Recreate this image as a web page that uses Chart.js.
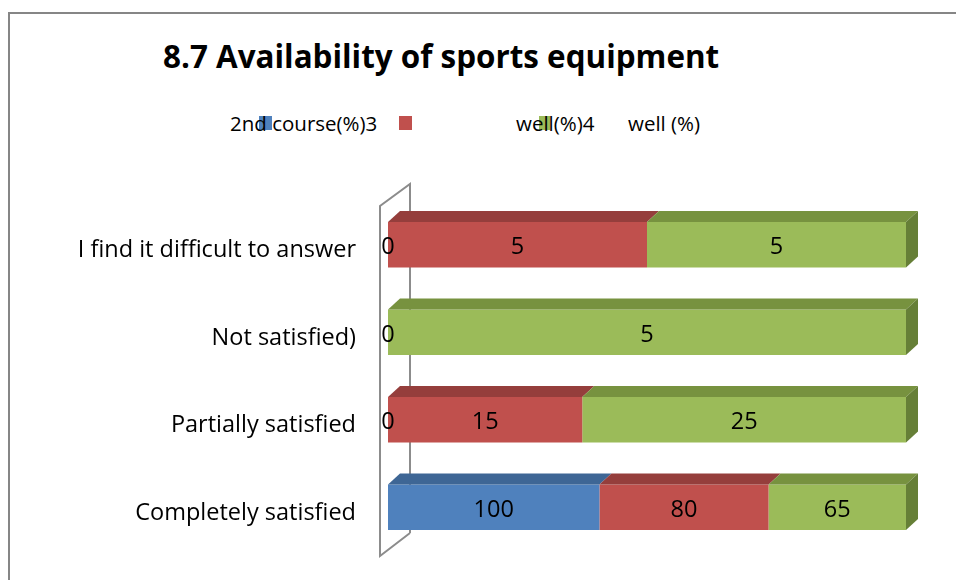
<!DOCTYPE html>
<html>
<head>
<meta charset="utf-8">
<script src="https://cdn.jsdelivr.net/npm/chart.js@4/dist/chart.umd.min.js"></script>
<style>
body { margin: 0; background: #fff; }
#wrap { position: relative; width: 956px; height: 580px; overflow: hidden; font-family: "Open Sans", sans-serif; }
#frame { position: absolute; left: 8px; top: 12px; width: 960px; height: 580px; border-top: 2px solid #868686; border-left: 2px solid #868686; }
#title { position: absolute; left: 163px; top: 34px; font-weight: bold; font-size: 31.4px; color: #000; white-space: nowrap; }
.lg { position: absolute; top: 109px; font-size: 20.5px; color: #000; white-space: nowrap; }
.mk { position: absolute; top: 116px; width: 13px; height: 14px; }
canvas { position: absolute; left: 0; top: 0; }
</style>
</head>
<body>
<div id="wrap">
  <div id="frame"></div>
  <div id="title">8.7 Availability of sports equipment</div>
  <div class="mk" style="left:259px;background:#4F81BD"></div>
  <div class="mk" style="left:399px;background:#C0504D"></div>
  <div class="mk" style="left:539px;background:#9BBB59;width:11px"></div>
  <div class="lg" style="left:230px">2nd course(%)3</div>
  <div class="lg" style="left:516px">well(%)4</div>
  <div class="lg" style="left:628px">well (%)</div>
  <canvas id="chart" width="956" height="580"></canvas>
</div>
<script>
var categories = ["I find it difficult to answer", "Not satisfied)", "Partially satisfied", "Completely satisfied"];
var seriesNames = ["2nd course(%)", "3 well(%)", "4 well (%)"];
var course2 = [0, 0, 0, 100];
var well3 = [5, null, 15, 80];
var well4 = [5, 5, 25, 65];

var colors = ["#4F81BD", "#C0504D", "#9BBB59"];
var topColors = ["#3E6695", "#953E3C", "#77923F"];
var sideColors = ["#345680", "#7E3331", "#667F37"];
var fontFam = "'Open Sans', sans-serif";

var allSeries = [course2, well3, well4];

// percentages per row, the chart is 100% stacked
function toPct(arr) {
    return arr.map(function (v, i) {
        if (v === null) return null;
        var tot = 0;
        allSeries.forEach(function (s) { tot += (s[i] || 0); });
        return v / tot * 100;
    });
}

var depthX = 12, depthY = 11;

var bars3d = {
    id: 'bars3d',
    beforeDatasetsDraw: function (chart) {
        var a = chart.chartArea, ctx = chart.ctx;
        ctx.save();
        ctx.strokeStyle = "#8C8C8C";
        ctx.lineWidth = 2;
        ctx.beginPath();
        ctx.moveTo(a.left + 22, a.bottom - 18);
        ctx.lineTo(a.left + 22, a.top - 17);
        ctx.lineTo(a.left - 8, a.top + 5);
        ctx.lineTo(a.left - 8, a.bottom + 5);
        ctx.lineTo(a.left + 22, a.bottom - 18);
        ctx.stroke();
        ctx.restore();
    },
    afterDatasetsDraw: function (chart) {
        var ctx = chart.ctx;
        ctx.save();
        for (var i = 0; i < categories.length; i++) {
            var last = null;
            for (var d = 0; d < allSeries.length; d++) {
                var bar = chart.getDatasetMeta(d).data[i];
                if (allSeries[d][i] === null || !bar) continue;
                var x0 = Math.min(bar.base, bar.x), x1 = Math.max(bar.base, bar.x);
                var top = bar.y - bar.height / 2;
                if (x1 - x0 > 0.5) {
                    ctx.fillStyle = topColors[d];
                    ctx.beginPath();
                    ctx.moveTo(x0, top);
                    ctx.lineTo(x0 + depthX, top - depthY);
                    ctx.lineTo(x1 + depthX, top - depthY);
                    ctx.lineTo(x1, top);
                    ctx.closePath();
                    ctx.fill();
                    last = { d: d, x1: x1, top: top, bottom: bar.y + bar.height / 2 };
                }
            }
            if (last) {
                ctx.fillStyle = sideColors[last.d];
                ctx.beginPath();
                ctx.moveTo(last.x1, last.top);
                ctx.lineTo(last.x1 + depthX, last.top - depthY);
                ctx.lineTo(last.x1 + depthX, last.bottom - depthY);
                ctx.lineTo(last.x1, last.bottom);
                ctx.closePath();
                ctx.fill();
            }
        }
        // value labels
        ctx.fillStyle = "#000";
        ctx.font = "23.5px " + fontFam;
        ctx.textAlign = "center";
        ctx.textBaseline = "middle";
        for (var d2 = 0; d2 < allSeries.length; d2++) {
            chart.getDatasetMeta(d2).data.forEach(function (bar, i) {
                var v = allSeries[d2][i];
                if (v === null) return;
                ctx.fillText(String(v), (bar.base + bar.x) / 2, bar.y + 3);
            });
        }
        ctx.restore();
    }
};

new Chart(document.getElementById("chart"), {
    type: 'bar',
    data: {
        labels: categories,
        datasets: allSeries.map(function (s, k) {
            return {
                label: seriesNames[k],
                data: toPct(s),
                backgroundColor: colors[k],
                borderWidth: 0,
                barPercentage: 0.52,
                categoryPercentage: 1
            };
        })
    },
    options: {
        indexAxis: 'y',
        responsive: false,
        animation: false,
        layout: { padding: { left: 0, right: 50, top: 201, bottom: 29 } },
        plugins: {
            legend: { display: false },
            title: { display: false },
            tooltip: { enabled: false }
        },
        scales: {
            x: { stacked: true, min: 0, max: 100, display: false },
            y: {
                stacked: true,
                grid: { display: false, drawTicks: false },
                border: { display: false },
                afterFit: function (scale) {
                    scale.width = 388;
                    scale.paddingTop = 0;
                    scale.paddingBottom = 0;
                },
                ticks: {
                    padding: 32,
                    labelOffset: 6,
                    color: "#000",
                    font: { family: fontFam, size: 23.5 }
                }
            }
        }
    },
    plugins: [bars3d]
});
</script>
</body>
</html>
